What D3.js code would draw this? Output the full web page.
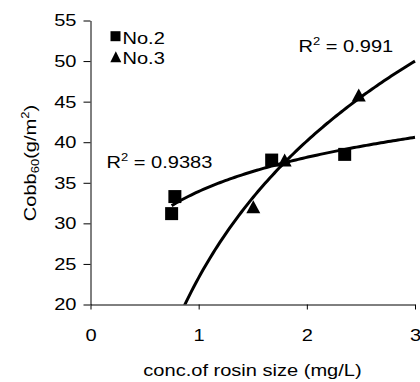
<!DOCTYPE html>
<html>
<head>
<meta charset="utf-8">
<script src="https://cdn.jsdelivr.net/npm/d3@7/dist/d3.min.js"></script>
<style>
    body { margin: 0; background: #fff; }
    text { font-family: "Liberation Sans", Arial, sans-serif; fill: #000; }
</style>
</head>
<body>
<svg id="chart" width="420" height="382"></svg>
<script>
// No.2 (squares)
var no2X = [0.75, 0.78, 1.675, 2.35];
var no2Y = [31.2, 33.3, 37.8, 38.5];
// No.3 (triangles)
var no3X = [1.505, 1.795, 2.48];
var no3Y = [32.05, 37.8, 45.83];
// log trendlines y = a*ln(x) + b
var fitNo2 = [6.07, 33.93];
var fitNo3 = [24.3, 23.3];
var r2Labels = ["0.9383", "0.991"];
var xTicks = [0, 1, 2, 3];
var yTicks = [20, 25, 30, 35, 40, 45, 50, 55];

var fontSize = 17;
var stretch = 1.18; // text in the picture is drawn a bit wide

var svg = d3.select("#chart");

var x = d3.scaleLinear().domain([0, 3]).range([90.5, 415]);
var y = d3.scaleLinear().domain([20, 55]).range([304.5, 20.5]);

svg.append("defs").append("clipPath").attr("id", "plot")
    .append("rect")
    .attr("x", x(0)).attr("y", y(55))
    .attr("width", x(3) - x(0) + 6).attr("height", y(20) - y(55));

// widen a text around its anchor point
function widen(sel) {
    sel.each(function () {
        var t = d3.select(this);
        var tx = +t.attr("x") || 0, ty = +t.attr("y") || 0;
        t.attr("x", 0).attr("y", 0)
            .attr("transform", "translate(" + tx + "," + ty + ") scale(" + stretch + ",1)");
    });
}

// axes
var yAxis = d3.axisLeft(y).tickValues(yTicks).tickSize(7).tickSizeOuter(0).tickPadding(7);
var xAxis = d3.axisBottom(x).tickValues(xTicks).tickSize(5).tickSizeOuter(0).tickPadding(19)
    .tickFormat(d3.format("d"));

svg.append("g")
    .attr("transform", "translate(" + x(0) + ",0)")
    .call(yAxis)
    .call(g => g.selectAll("text").attr("font-size", fontSize).attr("font-family", null).call(widen));

svg.append("g")
    .attr("transform", "translate(0," + y(20) + ")")
    .call(xAxis)
    .call(g => g.selectAll("text").attr("font-size", fontSize).attr("font-family", null).call(widen));

svg.selectAll(".domain, .tick line").attr("stroke", "#000").attr("stroke-width", 1);

// trendlines
function curve(fit, x0, x1) {
    var pts = d3.range(0, 101).map(i => x0 + (x1 - x0) * i / 100);
    return d3.line()
        .x(d => x(d))
        .y(d => y(fit[0] * Math.log(d) + fit[1]))(pts);
}

var lines = svg.append("g").attr("clip-path", "url(#plot)");
lines.append("path")
    .attr("d", curve(fitNo2, d3.min(no2X), 3))
    .attr("fill", "none").attr("stroke", "#000").attr("stroke-width", 3);
lines.append("path")
    .attr("d", curve(fitNo3, 0.8, 3))
    .attr("fill", "none").attr("stroke", "#000").attr("stroke-width", 3);

// markers
function square(cx, cy, s) {
    return "M" + (cx - s / 2) + "," + (cy - s / 2) + "h" + s + "v" + s + "h" + (-s) + "Z";
}
function triangle(cx, cy, w, h) {
    return "M" + (cx - w / 2) + "," + (cy + h / 2) + "L" + cx + "," + (cy - h / 2) + "L" + (cx + w / 2) + "," + (cy + h / 2) + "Z";
}

svg.append("g").selectAll("path")
    .data(d3.zip(no2X, no2Y))
    .enter()
    .append("path")
    .attr("d", d => square(x(d[0]), y(d[1]), 13))
    .attr("fill", "#000");

svg.append("g").selectAll("path")
    .data(d3.zip(no3X, no3Y))
    .enter()
    .append("path")
    .attr("d", d => triangle(x(d[0]), y(d[1]), 14, 13))
    .attr("fill", "#000");

// legend
svg.append("path").attr("d", square(115.5, 36.2, 10)).attr("fill", "#000");
svg.append("path").attr("d", triangle(115.8, 56.7, 11, 11)).attr("fill", "#000");
svg.append("text").attr("x", 122.5).attr("y", 44).attr("font-size", fontSize).text("No.2").call(widen);
svg.append("text").attr("x", 122.5).attr("y", 64).attr("font-size", fontSize).text("No.3").call(widen);

// R² labels
function r2(tx, ty, val) {
    var t = svg.append("text").attr("x", tx).attr("y", ty).attr("font-size", fontSize);
    t.append("tspan").text("R");
    t.append("tspan").attr("font-size", 11).attr("dy", -7).text("2");
    t.append("tspan").attr("dy", 7).text(" = " + val);
    t.call(widen);
}
r2(106.5, 168, r2Labels[0]);
r2(298.5, 51.5, r2Labels[1]);

// axis titles
svg.append("text")
    .attr("x", 252.5).attr("y", 376)
    .attr("text-anchor", "middle").attr("font-size", fontSize)
    .text("conc.of rosin size (mg/L)")
    .call(widen);

var yt = svg.append("text")
    .attr("transform", "translate(36,163) rotate(-90) scale(" + stretch + ",1)")
    .attr("text-anchor", "middle").attr("font-size", fontSize);
yt.append("tspan").text("Cobb");
yt.append("tspan").attr("font-size", 11).attr("dy", 3).text("60");
yt.append("tspan").attr("dy", -3).text("(g/m");
yt.append("tspan").attr("font-size", 11).attr("dy", -7).text("2");
yt.append("tspan").attr("dy", 7).text(")");
</script>
</body>
</html>
